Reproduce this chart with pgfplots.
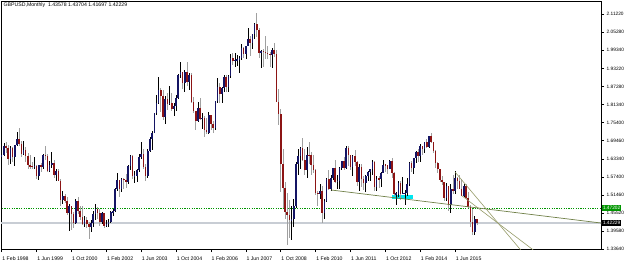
\documentclass[border=0pt]{standalone}
\usepackage{pgfplots}
\pgfplotsset{compat=1.18}
\usepackage{pgfplotstable}
\usepackage{fontspec}
\setmainfont{Liberation Sans}
\definecolor{upbody}{RGB}{20,20,100}
\definecolor{upwick}{RGB}{0,0,0}
\definecolor{dnbody}{RGB}{140,20,20}
\definecolor{dnwick}{RGB}{160,160,160}
\definecolor{bidline}{RGB}{200,205,212}
\definecolor{lvlgreen}{RGB}{0,150,0}
\definecolor{trend}{RGB}{112,128,72}
\definecolor{trendb}{RGB}{150,155,105}
\definecolor{aqua}{RGB}{0,230,240}
\newcommand\tf{\fontsize{5.2}{6}\selectfont}
\newcommand\yf{\fontsize{4.8}{5.5}\selectfont}
\pgfplotstableread{
m o h l c
0 1.6388 1.6570 1.6220 1.6460
1 1.6460 1.6860 1.6420 1.6770
2 1.6770 1.6880 1.6540 1.6710
3 1.6710 1.6790 1.6150 1.6330
4 1.6330 1.6760 1.6180 1.6700
5 1.6700 1.6740 1.6230 1.6410
6 1.6410 1.6810 1.6090 1.6800
7 1.6800 1.7220 1.6780 1.6990
8 1.6990 1.7350 1.6780 1.6820
9 1.6820 1.6920 1.6400 1.6500
10 1.6500 1.6920 1.6480 1.6640
11 1.6640 1.6720 1.6230 1.6450
12 1.6450 1.6530 1.6010 1.6130
13 1.6130 1.6470 1.6000 1.6105
14 1.6105 1.6240 1.6000 1.6090
15 1.6090 1.6410 1.6000 1.6110
16 1.6110 1.6150 1.5660 1.5775
17 1.5775 1.6130 1.5650 1.6125
18 1.6125 1.6200 1.5900 1.6075
19 1.6075 1.6500 1.6020 1.6460
20 1.6460 1.6780 1.6310 1.6450
21 1.6450 1.6500 1.5900 1.5930
22 1.5930 1.6280 1.5910 1.6150
23 1.6150 1.6570 1.6050 1.6205
24 1.6205 1.6300 1.5700 1.5810
25 1.5810 1.6000 1.5610 1.5925
26 1.5925 1.6000 1.5600 1.5620
27 1.5620 1.5660 1.4780 1.4985
28 1.4985 1.5270 1.4850 1.5130
29 1.5130 1.5190 1.4880 1.4960
30 1.4960 1.5090 1.4500 1.4540
31 1.4540 1.4840 1.3960 1.4770
32 1.4770 1.4790 1.4000 1.4530
33 1.4530 1.4600 1.4050 1.4225
34 1.4225 1.5000 1.4200 1.4935
35 1.4935 1.5070 1.4520 1.4630
36 1.4630 1.4790 1.4320 1.4420
37 1.4420 1.4780 1.4150 1.4185
38 1.4185 1.4460 1.4100 1.4315
39 1.4315 1.4420 1.4050 1.4205
40 1.4205 1.4240 1.3700 1.4100
41 1.4100 1.4320 1.3920 1.4235
42 1.4235 1.4630 1.4100 1.4530
43 1.4530 1.4840 1.4320 1.4700
44 1.4700 1.4740 1.4340 1.4540
45 1.4540 1.4670 1.4130 1.4255
46 1.4255 1.4580 1.4200 1.4540
47 1.4540 1.4560 1.4050 1.4110
48 1.4110 1.4320 1.4080 1.4200
49 1.4200 1.4350 1.4080 1.4250
50 1.4250 1.4620 1.4220 1.4580
51 1.4580 1.4700 1.4440 1.4620
52 1.4620 1.5370 1.4600 1.5330
53 1.5330 1.5860 1.5270 1.5645
54 1.5645 1.5650 1.5080 1.5330
55 1.5330 1.5720 1.5250 1.5690
56 1.5690 1.5700 1.5360 1.5655
57 1.5655 1.5840 1.5380 1.5570
58 1.5570 1.6130 1.5520 1.6100
59 1.6100 1.6480 1.5960 1.6450
60 1.6450 1.6470 1.5690 1.5780
61 1.5780 1.5930 1.5540 1.5790
62 1.5790 1.6010 1.5560 1.5970
63 1.5970 1.6510 1.5920 1.6390
64 1.6390 1.6880 1.6340 1.6500
65 1.6500 1.6650 1.6000 1.6075
66 1.6075 1.6170 1.5600 1.5780
67 1.5780 1.6650 1.5700 1.6595
68 1.6595 1.7070 1.6550 1.6980
69 1.6980 1.7270 1.6620 1.7205
70 1.7205 1.7860 1.7190 1.7855
71 1.7855 1.8460 1.7790 1.8175
72 1.8175 1.9050 1.8140 1.8620
73 1.8620 1.8670 1.7880 1.8400
74 1.8400 1.8610 1.7620 1.7735
75 1.7735 1.8400 1.7480 1.8315
76 1.8315 1.8530 1.7960 1.8150
77 1.8150 1.8760 1.8110 1.8195
78 1.8195 1.8500 1.7930 1.7990
79 1.7990 1.8180 1.7750 1.8080
80 1.8080 1.8440 1.7930 1.8365
81 1.8365 1.9140 1.8300 1.9105
82 1.9105 1.9550 1.9000 1.9195
83 1.9195 1.9200 1.8640 1.8830
84 1.8830 1.9260 1.8560 1.9200
85 1.9200 1.9550 1.8760 1.8880
86 1.8880 1.9170 1.8600 1.9100
87 1.9100 1.9180 1.8170 1.8215
88 1.8215 1.8380 1.7870 1.7915
89 1.7915 1.7930 1.7280 1.7590
90 1.7590 1.8210 1.7560 1.8010
91 1.8010 1.8350 1.7610 1.7655
92 1.7655 1.7860 1.7320 1.7705
93 1.7705 1.7770 1.7060 1.7300
94 1.7300 1.7700 1.7150 1.7210
95 1.7210 1.7880 1.7150 1.7785
96 1.7785 1.7790 1.7280 1.7475
97 1.7475 1.7600 1.7200 1.7370
98 1.7370 1.8260 1.7280 1.8240
99 1.8240 1.9000 1.8200 1.8700
100 1.8700 1.8840 1.8170 1.8495
101 1.8495 1.8720 1.8170 1.8690
102 1.8690 1.9110 1.8540 1.9045
103 1.9045 1.9100 1.8560 1.8705
104 1.8705 1.9110 1.8560 1.9080
105 1.9080 1.9800 1.9010 1.9665
106 1.9665 1.9850 1.9440 1.9585
107 1.9585 1.9840 1.9360 1.9605
108 1.9605 1.9770 1.9400 1.9625
109 1.9625 1.9720 1.9170 1.9680
110 1.9680 2.0130 1.9610 2.0000
111 2.0000 2.0020 1.9660 1.9815
112 1.9815 2.0080 1.9640 2.0080
113 2.0080 2.0650 2.0050 2.0310
114 2.0310 2.0400 1.9740 2.0160
115 2.0160 2.0460 1.9980 2.0450
116 2.0450 2.0840 2.0300 2.0800
117 2.0800 2.1160 2.0350 2.0590
118 2.0590 2.0650 1.9680 1.9850
119 1.9850 1.9930 1.9340 1.9900
120 1.9900 1.9960 1.9360 1.9870
121 1.9870 2.0400 1.9630 1.9850
122 1.9850 2.0080 1.9640 1.9800
123 1.9800 1.9870 1.9360 1.9770
124 1.9770 1.9990 1.9350 1.9925
125 1.9925 2.0160 1.9710 1.9800
126 1.9800 1.9950 1.8220 1.8220
127 1.8220 1.8650 1.7450 1.7830
128 1.7830 1.8000 1.5250 1.6170
129 1.6170 1.6660 1.4720 1.5375
130 1.5375 1.5560 1.4360 1.4590
131 1.4590 1.5220 1.3500 1.4485
132 1.4485 1.4985 1.3720 1.4325
133 1.4325 1.4780 1.3660 1.4350
134 1.4350 1.5000 1.4090 1.4800
135 1.4800 1.6250 1.4720 1.6160
136 1.6160 1.6660 1.5810 1.6450
137 1.6450 1.6740 1.6000 1.6705
138 1.6705 1.7040 1.6280 1.6300
139 1.6300 1.6660 1.5800 1.5985
140 1.5985 1.6740 1.5700 1.6465
141 1.6465 1.6880 1.6170 1.6455
142 1.6455 1.6580 1.5820 1.6145
143 1.6145 1.6460 1.5860 1.5985
144 1.5985 1.6000 1.5150 1.5220
145 1.5220 1.5280 1.4780 1.5175
146 1.5175 1.5520 1.5020 1.5295
147 1.5295 1.5460 1.4230 1.4540
148 1.4540 1.5030 1.4350 1.4955
149 1.4955 1.5700 1.4910 1.5690
150 1.5690 1.5960 1.5300 1.5345
151 1.5345 1.5820 1.5290 1.5720
152 1.5720 1.6030 1.5650 1.6025
153 1.6025 1.6300 1.5530 1.5590
154 1.5590 1.5810 1.5350 1.5610
155 1.5610 1.6060 1.5350 1.6025
156 1.6025 1.6280 1.5960 1.6260
157 1.6260 1.6400 1.5970 1.6040
158 1.6040 1.6750 1.5990 1.6700
159 1.6700 1.6750 1.6110 1.6455
160 1.6455 1.6480 1.5960 1.6055
161 1.6055 1.6480 1.5780 1.6420
162 1.6420 1.6620 1.6120 1.6240
163 1.6240 1.6260 1.5430 1.5590
164 1.5590 1.6170 1.5270 1.6085
165 1.6085 1.6170 1.5420 1.5685
166 1.5685 1.5780 1.5310 1.5540
167 1.5540 1.5800 1.5230 1.5760
168 1.5760 1.5950 1.5600 1.5915
169 1.5915 1.6000 1.5600 1.5990
170 1.5990 1.6300 1.5800 1.6240
171 1.6240 1.6280 1.5270 1.5400
172 1.5400 1.5780 1.5270 1.5690
173 1.5690 1.5780 1.5390 1.5680
174 1.5680 1.5910 1.5400 1.5865
175 1.5865 1.6310 1.5860 1.6150
176 1.6150 1.6180 1.5910 1.6135
177 1.6135 1.6140 1.5830 1.6020
178 1.6020 1.6310 1.6000 1.6255
179 1.6255 1.6380 1.5720 1.5865
180 1.5865 1.5900 1.5120 1.5170
181 1.5170 1.5240 1.4830 1.5195
182 1.5195 1.5600 1.5090 1.5535
183 1.5535 1.5600 1.4990 1.5190
184 1.5190 1.5750 1.5180 1.5210
185 1.5210 1.5300 1.4810 1.5210
186 1.5210 1.5720 1.5130 1.5500
187 1.5500 1.6250 1.5430 1.6195
188 1.6195 1.6260 1.5890 1.6035
189 1.6035 1.6380 1.5850 1.6365
190 1.6365 1.6600 1.6200 1.6560
191 1.6560 1.6670 1.6250 1.6440
192 1.6440 1.6820 1.6250 1.6750
193 1.6750 1.6770 1.6460 1.6670
194 1.6670 1.6890 1.6520 1.6880
195 1.6880 1.6990 1.6690 1.6745
196 1.6745 1.7110 1.6690 1.7110
197 1.7110 1.7190 1.6870 1.6885
198 1.6885 1.6890 1.6540 1.6595
199 1.6595 1.6640 1.6050 1.6215
200 1.6215 1.6230 1.5870 1.5995
201 1.5995 1.6000 1.5590 1.5640
202 1.5640 1.5790 1.5480 1.5575
203 1.5575 1.5590 1.4950 1.5060
204 1.5060 1.5550 1.4950 1.5435
205 1.5435 1.5450 1.4630 1.4825
206 1.4825 1.5500 1.4565 1.5345
207 1.5345 1.5820 1.5170 1.5280
208 1.5280 1.5930 1.5170 1.5715
209 1.5715 1.5730 1.5330 1.5615
210 1.5615 1.5820 1.5330 1.5345
211 1.5345 1.5660 1.5110 1.5125
212 1.5125 1.5510 1.5080 1.5430
213 1.5430 1.5510 1.5020 1.5060
214 1.5060 1.5240 1.4720 1.4740
215 1.4740 1.4810 1.4080 1.4245
216 1.4245 1.4670 1.3835 1.3920
217 1.3920 1.4460 1.3840 1.4365
218 1.43578 1.43704 1.41697 1.42229
}\candles
\pgfplotsset{
  candlepart/.style n args={2}{forget plot, draw=none, mark=none,
    error bars/y dir=both, error bars/y explicit, error bars/error mark=none,
    error bars/error bar style={draw=#1, line width=#2, solid}},
}
\begin{document}
\begin{tikzpicture}
\useasboundingbox (-1bp,-13bp) rectangle (624bp,249bp);
\begin{axis}[
  at={(0,0)}, anchor=south west,
  scale only axis, width=600bp, height=248bp,
  xmin=-0.32, xmax=274.9, ymin=1.3364, ymax=2.15512,
  axis line style={black, line width=0.8bp},
  xtick pos=left, ytick pos=right, yticklabel pos=right,
  tick align=outside, major tick length=3bp,
  tick style={black, line width=0.6bp},
  xtick={0,16,...,208},
  xticklabels={1 Feb 1998, 1 Jun 1999, 1 Oct 2000, 1 Feb 2002, 1 Jun 2003, 1 Oct 2004, 1 Feb 2006, 1 Jun 2007, 1 Oct 2008, 1 Feb 2010, 1 Jun 2011, 1 Oct 2012, 1 Feb 2014, 1 Jun 2015},
  ytick={1.3364,1.3958,1.4552,1.5146,1.5740,1.6334,1.6946,1.7540,1.8134,1.8728,1.9322,1.9934,2.0528,2.1122},
  yticklabels={1.33640,1.39580,1.45520,1.51460,1.57400,1.63340,1.69460,1.75400,1.81340,1.87280,1.93220,1.99340,2.05280,2.11220},
  xticklabel style={anchor=north west, inner sep=0pt, xshift=0.5bp, yshift=-4.5bp, font=\tf},
  yticklabel style={anchor=west, inner sep=0pt, xshift=2.5bp, font=\yf},
  clip=true,
]
\addplot[bidline, line width=2bp, forget plot] coordinates {(-1,1.42229) (280,1.42229)};
\addplot[lvlgreen, line width=0.7bp, dash pattern=on 1.2bp off 1.2bp, forget plot] coordinates {(-1,1.47202) (280,1.47202)};
\addplot[draw=none, fill=aqua, forget plot] coordinates {(179.2,1.5017) (188.8,1.5017) (188.8,1.5149) (179.2,1.5149)} -- cycle;
\addplot[restrict expr to domain={\thisrow{c}-\thisrow{o}}{0:1}, candlepart={upwick}{0.7bp}]
  table[x=m, y expr={(\thisrow{h}+\thisrow{l})/2}, y error expr={(\thisrow{h}-\thisrow{l})/2}] {\candles};
\addplot[restrict expr to domain={\thisrow{o}-\thisrow{c}}{0.000001:1}, candlepart={dnwick}{0.7bp}]
  table[x=m, y expr={(\thisrow{h}+\thisrow{l})/2}, y error expr={(\thisrow{h}-\thisrow{l})/2}] {\candles};
\addplot[restrict expr to domain={\thisrow{c}-\thisrow{o}}{0:1}, candlepart={upbody}{1.6bp}]
  table[x=m, y expr={(\thisrow{o}+\thisrow{c})/2}, y error expr={max(abs(\thisrow{c}-\thisrow{o})/2,0.0015)}] {\candles};
\addplot[restrict expr to domain={\thisrow{o}-\thisrow{c}}{0.000001:1}, candlepart={dnbody}{1.6bp}]
  table[x=m, y expr={(\thisrow{o}+\thisrow{c})/2}, y error expr={max(abs(\thisrow{c}-\thisrow{o})/2,0.0015)}] {\candles};
\addplot[trend, line width=0.7bp, forget plot] coordinates {(151.06,1.5312) (274.9,1.4222)};
\addplot[trendb, line width=0.6bp, forget plot] coordinates {(207.94,1.5906) (238.07,1.3331)};
\addplot[trendb, line width=0.6bp, forget plot] coordinates {(211.0,1.5127) (243.85,1.3331)};
\coordinate (gl) at (axis cs:274.9,1.47202);
\coordinate (bl) at (axis cs:274.9,1.42229);
\end{axis}
\node[fill=lvlgreen, text=white, anchor=west, inner xsep=0.6bp, inner ysep=0.9bp, font=\yf] at ([xshift=1.2bp]gl) {1.47202};
\node[fill=black, text=white, anchor=west, inner xsep=0.6bp, inner ysep=0.9bp, font=\yf] at ([xshift=1.2bp]bl) {1.42229};
\node[anchor=north west, inner sep=0pt, font=\tf] at (2.5bp,246.5bp) {GBPUSD,Monthly\ \ 1.43578 1.43704 1.41697 1.42229};
\end{tikzpicture}
\end{document}
